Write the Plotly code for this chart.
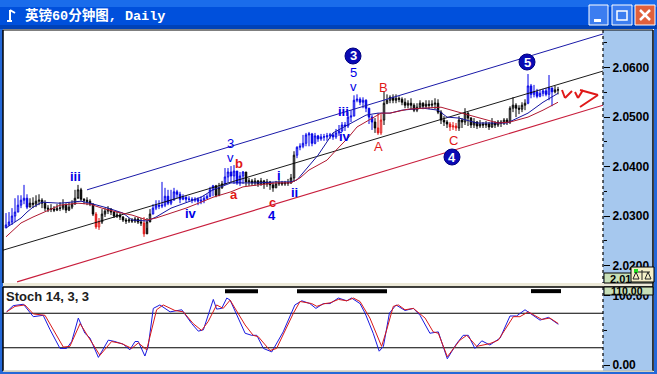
import plotly.graph_objects as go

# ---------- data: 60-minute GBP bars (index = bar number), open = previous close ----------
close_px = [2.0282,2.0288,2.0300,2.0308,2.0322,2.0332,2.0336,2.0318,2.0326,2.0324,2.0330,2.0332,2.0326,2.0316,2.0314,2.0314,2.0312,2.0316,2.0316,2.0322,2.0312,2.0318,2.0324,2.0336,2.0353,2.0334,2.0332,2.0330,2.0324,2.0304,2.0278,2.0288,2.0304,2.0310,2.0314,2.0308,2.0300,2.0302,2.0298,2.0292,2.0290,2.0292,2.0290,2.0294,2.0288,2.0286,2.0264,2.0288,2.0304,2.0316,2.0322,2.0320,2.0322,2.0340,2.0326,2.0332,2.0349,2.0344,2.0334,2.0338,2.0334,2.0334,2.0332,2.0334,2.0330,2.0332,2.0336,2.0340,2.0353,2.0361,2.0342,2.0357,2.0365,2.0379,2.0389,2.0381,2.0391,2.0367,2.0381,2.0389,2.0369,2.0371,2.0367,2.0371,2.0365,2.0371,2.0365,2.0369,2.0363,2.0357,2.0365,2.0367,2.0365,2.0367,2.0367,2.0377,2.0423,2.0439,2.0441,2.0447,2.0464,2.0466,2.0447,2.0462,2.0456,2.0460,2.0460,2.0462,2.0464,2.0460,2.0468,2.0472,2.0484,2.0482,2.0500,2.0502,2.0534,2.0536,2.0530,2.0534,2.0518,2.0500,2.0490,2.0478,2.0468,2.0494,2.0528,2.0534,2.0540,2.0534,2.0538,2.0536,2.0530,2.0524,2.0528,2.0524,2.0514,2.0520,2.0528,2.0522,2.0526,2.0524,2.0526,2.0528,2.0510,2.0494,2.0490,2.0486,2.0480,2.0482,2.0478,2.0494,2.0490,2.0508,2.0498,2.0484,2.0490,2.0482,2.0486,2.0484,2.0486,2.0480,2.0488,2.0484,2.0490,2.0488,2.0494,2.0490,2.0518,2.0524,2.0518,2.0516,2.0524,2.0528,2.0563,2.0546,2.0551,2.0542,2.0548,2.0553,2.0546,2.0559,2.0551,2.0555,2.0555]
high_px = [2.0306,2.0308,2.0316,2.0336,2.0342,2.0342,2.0363,2.0344,2.0336,2.0338,2.0342,2.0344,2.0336,2.0332,2.0322,2.0324,2.0320,2.0324,2.0328,2.0334,2.0326,2.0328,2.0332,2.0353,2.0363,2.0357,2.0336,2.0338,2.0334,2.0326,2.0308,2.0296,2.0314,2.0316,2.0320,2.0316,2.0310,2.0310,2.0306,2.0300,2.0296,2.0296,2.0296,2.0298,2.0298,2.0296,2.0298,2.0296,2.0314,2.0324,2.0332,2.0332,2.0369,2.0357,2.0353,2.0353,2.0357,2.0353,2.0349,2.0344,2.0340,2.0340,2.0338,2.0338,2.0338,2.0340,2.0342,2.0344,2.0359,2.0363,2.0363,2.0367,2.0371,2.0397,2.0397,2.0401,2.0403,2.0377,2.0389,2.0391,2.0389,2.0377,2.0375,2.0377,2.0373,2.0377,2.0373,2.0375,2.0371,2.0369,2.0371,2.0373,2.0371,2.0371,2.0375,2.0385,2.0431,2.0441,2.0447,2.0464,2.0468,2.0470,2.0468,2.0468,2.0464,2.0466,2.0466,2.0468,2.0468,2.0468,2.0476,2.0484,2.0490,2.0490,2.0510,2.0514,2.0544,2.0546,2.0540,2.0540,2.0536,2.0518,2.0504,2.0498,2.0508,2.0506,2.0551,2.0546,2.0544,2.0546,2.0546,2.0542,2.0540,2.0538,2.0534,2.0538,2.0528,2.0528,2.0534,2.0530,2.0534,2.0534,2.0534,2.0538,2.0536,2.0514,2.0502,2.0494,2.0490,2.0490,2.0488,2.0502,2.0498,2.0518,2.0510,2.0500,2.0498,2.0492,2.0494,2.0490,2.0492,2.0490,2.0498,2.0492,2.0494,2.0494,2.0498,2.0498,2.0522,2.0540,2.0528,2.0524,2.0530,2.0536,2.0587,2.0567,2.0565,2.0557,2.0555,2.0557,2.0559,2.0585,2.0559,2.0563,2.0561]
low_px = [2.0276,2.0280,2.0282,2.0288,2.0308,2.0316,2.0324,2.0314,2.0318,2.0316,2.0318,2.0322,2.0316,2.0310,2.0308,2.0308,2.0308,2.0310,2.0310,2.0312,2.0306,2.0310,2.0314,2.0326,2.0338,2.0330,2.0324,2.0322,2.0320,2.0300,2.0274,2.0272,2.0284,2.0298,2.0304,2.0302,2.0296,2.0296,2.0292,2.0288,2.0284,2.0286,2.0286,2.0286,2.0284,2.0280,2.0258,2.0276,2.0292,2.0304,2.0312,2.0314,2.0316,2.0318,2.0322,2.0322,2.0332,2.0336,2.0326,2.0332,2.0328,2.0330,2.0326,2.0328,2.0322,2.0324,2.0326,2.0334,2.0338,2.0340,2.0338,2.0340,2.0355,2.0363,2.0367,2.0367,2.0365,2.0363,2.0361,2.0365,2.0361,2.0361,2.0361,2.0361,2.0359,2.0361,2.0355,2.0359,2.0353,2.0349,2.0357,2.0361,2.0361,2.0361,2.0361,2.0365,2.0369,2.0417,2.0433,2.0437,2.0441,2.0441,2.0441,2.0445,2.0450,2.0452,2.0452,2.0452,2.0456,2.0454,2.0456,2.0462,2.0470,2.0472,2.0478,2.0490,2.0502,2.0530,2.0524,2.0518,2.0510,2.0486,2.0474,2.0468,2.0464,2.0464,2.0484,2.0526,2.0528,2.0528,2.0528,2.0530,2.0524,2.0518,2.0518,2.0516,2.0510,2.0510,2.0518,2.0516,2.0518,2.0516,2.0518,2.0516,2.0506,2.0486,2.0482,2.0478,2.0472,2.0474,2.0472,2.0472,2.0478,2.0484,2.0482,2.0478,2.0478,2.0476,2.0478,2.0478,2.0478,2.0474,2.0478,2.0478,2.0480,2.0480,2.0484,2.0484,2.0486,2.0510,2.0500,2.0506,2.0510,2.0514,2.0526,2.0538,2.0540,2.0538,2.0540,2.0542,2.0542,2.0534,2.0522,2.0548,2.0546]
open_px = [2.0276] + close_px[:-1]

# wave-count colouring: (first bar, last bar) runs
blue_runs = [(0, 7), (49, 69), (73, 79), (97, 122), (174, 182)]
red_runs = [(30, 31), (46, 46), (124, 125), (148, 150)]

fast_ma_bar = [0,5,7,9,12,18,25,28,34,39,42,47,50,55,65,69,75,79,84,90,95,97,104,109,115,120,124,128,132,139,144,147,151,157,167,174,179,184]
fast_ma_px = [2.0276,2.0296,2.0308,2.0318,2.0328,2.0326,2.0330,2.0326,2.0316,2.0306,2.0292,2.0290,2.0298,2.0316,2.0338,2.0353,2.0367,2.0367,2.0367,2.0369,2.0369,2.0373,2.0423,2.0468,2.0488,2.0504,2.0508,2.0508,2.0514,2.0518,2.0514,2.0500,2.0498,2.0488,2.0488,2.0508,2.0530,2.0548]
slow_ma_bar = [0,5,9,13,18,24,28,32,37,42,47,50,56,60,65,69,75,79,84,90,95,98,101,107,110,114,117,120,125,128,134,139,145,152,158,164,168,174,179,184]
slow_ma_px = [2.0258,2.0286,2.0298,2.0308,2.0322,2.0326,2.0324,2.0316,2.0308,2.0302,2.0292,2.0296,2.0308,2.0316,2.0328,2.0338,2.0349,2.0359,2.0363,2.0367,2.0367,2.0377,2.0393,2.0413,2.0433,2.0458,2.0480,2.0490,2.0508,2.0508,2.0516,2.0518,2.0520,2.0508,2.0498,2.0488,2.0490,2.0500,2.0514,2.0530]

# trend channel (bar, price)
chan_top_bar, chan_top_px = [27, 199], [2.0353, 2.0668]
chan_mid_bar, chan_mid_px = [-1, 199], [2.0231, 2.0593]
chan_low_bar, chan_low_px = [3.7, 199], [2.0167, 2.0524]

stoch_k_bar = [0.2,2.4,5.8,7.4,9.1,12.4,14.7,18,20.2,21.9,24.1,26.3,28,30.8,34.1,36.3,39.1,41.3,43,44.1,46.3,47.4,49.1,51.3,54.7,58.6,61.9,64.1,65.8,69.1,70.2,71.9,73.6,74.7,77.4,79.7,81.9,83.6,85.8,88.6,92.4,96.3,98.6,101.3,103.3,105.8,108,110.8,113.6,115.2,118,119.7,122.4,124.4,125.8,127.8,130,133,135.8,138,141.3,144.1,147.1,150.2,152.4,154.1,156.3,158.6,161.3,164.7,168,170.2,173,178,180.8,184.1]
stoch_k = [77,86,88,80,70,72,51,24,24,34,68,46,39,11,36,34,30,22,34,34,13,27,82,87,77,80,60,49,51,95,81,82,97,94,68,46,43,43,24,19,48,87,93,89,82,89,89,97,93,97,89,75,46,20,27,75,87,79,82,72,46,48,9,31,43,43,24,35,29,39,71,71,80,65,69,59]
stoch_d_bar = [0.2,3,6.3,9.1,13,15.8,19.1,21.3,24.7,27.4,29.1,31.3,35.2,38.6,41.9,44.1,46.9,50.2,52.4,56.3,59.1,62.4,65.2,67.4,70.2,72.4,74.7,77.4,79.7,82.4,84.1,88,90.2,95.8,98,101.9,103.6,106.3,108,110.8,113.6,115.8,118,121.3,125.2,126.9,129.1,130.8,133,135.8,139.7,142.4,144.1,147.1,151.3,153.6,156.9,161.3,164.1,169.1,171.3,174.1,178.6,181.3,184.1]
stoch_d = [77,85,87,74,72,51,26,27,60,41,29,14,34,31,24,32,22,80,87,79,77,60,50,63,87,82,94,75,58,43,41,21,24,75,92,89,85,89,90,95,93,97,92,68,27,51,85,87,80,82,68,48,46,12,36,43,27,31,36,70,70,77,66,68,60]
overbought_runs = [(73, 84), (97, 127), (175, 185)]
stoch_levels = [75, 25]

title_text = "英镑60分钟图, Daily"
stoch_title = "Stoch 14, 3, 3"
main_ticks = [2.02, 2.03, 2.04, 2.05, 2.06]
main_tick_text = ["<b>2.0200</b>", "<b>2.0300</b>", "<b>2.0400</b>", "<b>2.0500</b>", "<b>2.0600</b>"]

# wave labels: text, x-pixel, y-pixel, colour key, bold
wave_labels = [
    ("iii", 75, 176, "b", True), ("3", 230, 143, "b", False), ("v", 230, 157, "b", False), ("b", 239, 163, "r", True),
    ("i", 279, 175, "b", True), ("ii", 294, 192, "b", True), ("iv", 191, 214, "b", True), ("a", 234, 194, "r", True),
    ("c", 272, 202, "r", True), ("4", 272, 215, "b", True), ("5", 353, 72, "b", False), ("v", 353, 86, "b", False),
    ("iii", 343, 112, "b", True), ("iv", 345, 136, "b", True), ("A", 378, 146, "r", False), ("B", 383, 87, "r", False),
    ("C", 453, 141, "r", False),
]
wave_circles = [("3", 353, 56), ("4", 452, 157), ("5", 527, 62)]

W, H = 657, 374
X = lambda p: p / W
Y = lambda p: 1 - p / H
BLUE, RED = "#0000E6", "#E01818"
fig = go.Figure()


def rect(x0, y0, x1, y1, fill, line=None, lw=1, layer="below"):
    fig.add_shape(type="rect", xref="paper", yref="paper", x0=X(x0), x1=X(x1), y0=Y(y0), y1=Y(y1),
                  fillcolor=fill, line=dict(color=line or fill, width=lw if line else 0), layer=layer)


def seg(x0, y0, x1, y1, color, w=1, dash="solid", layer="above"):
    fig.add_shape(type="line", xref="paper", yref="paper", x0=X(x0), x1=X(x1), y0=Y(y0), y1=Y(y1),
                  line=dict(color=color, width=w, dash=dash), layer=layer)


def note(text, x, y, color, size=12, bold=False, family="Liberation Sans", anchor="center"):
    fig.add_annotation(text=f"<b>{text}</b>" if bold else text, xref="paper", yref="paper", x=X(x), y=Y(y),
                       showarrow=False, xanchor=anchor, yanchor="middle",
                       font=dict(color=color, size=size, family=family), borderpad=0)


# window chrome
rect(0, 0, W, 7, "#1A6CEB")
rect(0, 7, W, 25, "#0050DC")
rect(0, 25, W, 29, "#0042B8")
rect(0, 29, 3, H, "#2468D8")
rect(654, 29, W, H, "#2468D8")
rect(0, 372, W, H, "#2468D8")
rect(3, 283, 654, 287, "#ECE9D8")
rect(3, 371, 654, 372, "#ECE9D8")
rect(603, 30, 653, 283, "#A6C8EE")
rect(603, 287, 653, 371, "#A6C8EE")

# candles by colour run
def in_runs(i, runs):
    return any(a <= i <= b for a, b in runs)


groups = {BLUE: [], RED: [], "#000000": []}
for i in range(len(close_px)):
    if in_runs(i, blue_runs):
        groups[BLUE].append(i)
    elif in_runs(i, red_runs):
        groups[RED].append(i)
    else:
        groups["#000000"].append(i)

for name, bar, px_, col, w in [("top", chan_top_bar, chan_top_px, "#1A1AA8", 1),
                              ("mid", chan_mid_bar, chan_mid_px, "#000000", 0.9),
                              ("low", chan_low_bar, chan_low_px, "#C81E3C", 1.1)]:
    fig.add_trace(go.Scatter(x=bar, y=px_, mode="lines", line=dict(color=col, width=w), hoverinfo="skip", name=name))

for col, idx in groups.items():
    fig.add_trace(go.Candlestick(
        x=idx, open=[open_px[i] for i in idx], high=[high_px[i] for i in idx],
        low=[low_px[i] for i in idx], close=[close_px[i] for i in idx],
        increasing=dict(line=dict(color=col, width=1), fillcolor="#FFFFFF"),
        decreasing=dict(line=dict(color=col, width=1), fillcolor=col),
        whiskerwidth=0, hoverinfo="skip", name=col))

fig.add_trace(go.Scatter(x=fast_ma_bar, y=fast_ma_px, mode="lines", line=dict(color="#1414A0", width=1), hoverinfo="skip"))
fig.add_trace(go.Scatter(x=slow_ma_bar, y=slow_ma_px, mode="lines", line=dict(color="#B01830", width=1), hoverinfo="skip"))

# stochastic pane
for lv in stoch_levels:
    fig.add_trace(go.Scatter(x=[-1, 199], y=[lv, lv], xaxis="x2", yaxis="y2", mode="lines",
                             line=dict(color="#000000", width=1.2), hoverinfo="skip"))
for a, b in overbought_runs:
    fig.add_trace(go.Scatter(x=[a, b], y=[107, 107], xaxis="x2", yaxis="y2", mode="lines",
                             line=dict(color="#000000", width=4), hoverinfo="skip"))
fig.add_trace(go.Scatter(x=stoch_k_bar, y=stoch_k, xaxis="x2", yaxis="y2", mode="lines",
                         line=dict(color="#1818E0", width=1), hoverinfo="skip"))
fig.add_trace(go.Scatter(x=stoch_d_bar, y=stoch_d, xaxis="x2", yaxis="y2", mode="lines",
                         line=dict(color="#D81818", width=1), hoverinfo="skip"))

# frame and axis rules
seg(3, 30, 653, 30, "#000000")
seg(3, 30, 3, 283, "#000000", 1.5)
seg(3, 287, 653, 287, "#000000", 1.5)
seg(3, 287, 3, 371, "#000000", 1.5)
seg(653, 30, 653, 371, "#000000", 1.5)
seg(3, 371, 653, 371, "#B8B4A0", 1)
seg(603, 30, 603, 283, "#000000", 1.2, "dot")
seg(603, 287, 603, 371, "#000000", 1.2, "dot")

# green price boxes, covering the clipped labels
rect(604, 273, 653, 283, "#C8E0B8", "#000000", 1, "above")
rect(604, 287, 653, 295, "#C8E0B8", "#000000", 1, "above")
note("2.01", 620, 278.5, "#000000", 11, True)
note("110.00", 627, 291, "#000000", 10.5, True)

# balance icon
rect(631, 267, 654, 282, "#F6F0C8", "#000000", 1, "above")
rect(634, 269, 638, 273, "#20E020", None, 0, "above")
for a, b, c, d in [(633, 279, 639, 279), (633, 279, 636, 272), (639, 279, 636, 272),
                   (645, 279, 651, 279), (645, 279, 648, 272), (651, 279, 648, 272),
                   (638, 272, 650, 272), (642, 270, 642, 280)]:
    seg(a, b, c, d, "#202020", 1)

# title bar buttons
for x0, x1, col in [(589, 608, "#3C7DF0"), (612, 632, "#3C7DF0"), (635, 655, "#E0603C")]:
    fig.add_shape(type="rect", xref="paper", yref="paper", x0=X(x0), x1=X(x1), y0=Y(5), y1=Y(25),
                  fillcolor=col, line=dict(color="#FFFFFF", width=1), layer="above")
rect(594, 19, 601, 22, "#FFFFFF", None, 0, "above")
rect(617, 11, 627, 20, "#3C7DF0", "#FFFFFF", 1.5, "above")
seg(640, 10, 650, 20, "#FFFFFF", 2.5)
seg(650, 10, 640, 20, "#FFFFFF", 2.5)

# hand-drawn red arrow
for pts in [[(562, 90), (565, 98), (572, 91)], [(575, 92), (578, 98), (583, 90)], [(580, 90), (598, 95), (580, 107)]]:
    for (a, b), (c, d) in zip(pts, pts[1:]):
        seg(a, b, c, d, RED, 2)

# wave labels
for txt, x, y, c, b in wave_labels:
    note(txt, x, y, BLUE if c == "b" else RED, 13, b)
for txt, x, y in wave_circles:
    fig.add_shape(type="circle", xref="paper", yref="paper", x0=X(x - 8), x1=X(x + 8), y0=Y(y - 8), y1=Y(y + 8),
                  fillcolor="#0A0AB4", line=dict(color="#000080", width=1), layer="above")
    note(txt, x, y, "#FFFFFF", 13, True)

note(title_text, 24, 16, "#FFFFFF", 13.5, True, "Liberation Mono, Noto Sans CJK SC", "left")
note(stoch_title, 5, 296, "#202020", 13, True, anchor="left")

# glyph on the title bar
seg(10, 10, 10, 22, "#FFFFFF", 2)
seg(10, 10, 15, 13, "#FFFFFF", 2)
seg(7, 21, 12, 21, "#FFFFFF", 2)

tick_font = dict(family="Liberation Sans", size=12, color="#000000")
fig.update_layout(
    width=W, height=H, margin=dict(l=0, r=0, t=0, b=0), showlegend=False, autosize=False,
    paper_bgcolor="#FFFFFF", plot_bgcolor="#FFFFFF",
    xaxis=dict(domain=[3 / W, 603 / W], range=[-1, 199], visible=False, rangeslider=dict(visible=False), fixedrange=True),
    yaxis=dict(domain=[1 - 283 / H, 1 - 30 / H], range=[2.01647, 2.0676], side="right", anchor="x",
               tickvals=main_ticks, ticktext=main_tick_text, ticks="outside", ticklen=6, tickcolor="#000000",
               tickfont=tick_font, showgrid=False, zeroline=False, showline=False, fixedrange=True,
               minor=dict(tickvals=[2.025, 2.035, 2.045, 2.055, 2.065], ticks="outside", ticklen=3, tickcolor="#000000")),
    xaxis2=dict(domain=[3 / W, 603 / W], range=[-1, 199], visible=False, anchor="y2", fixedrange=True),
    yaxis2=dict(domain=[1 - 371 / H, 1 - 287 / H], range=[-8.7, 113], side="right", anchor="x2",
                tickvals=[0, 100], ticktext=["<b>0.00</b>", "<b>100.00</b>"], ticks="outside", ticklen=6, tickcolor="#000000",
                tickfont=tick_font, showgrid=False, zeroline=False, showline=False, fixedrange=True,
                minor=dict(tickvals=[50], ticks="outside", ticklen=3, tickcolor="#000000")),
)
fig.write_html("out.html", config=dict(displayModeBar=False), post_script="document.body.style.margin='0';")
